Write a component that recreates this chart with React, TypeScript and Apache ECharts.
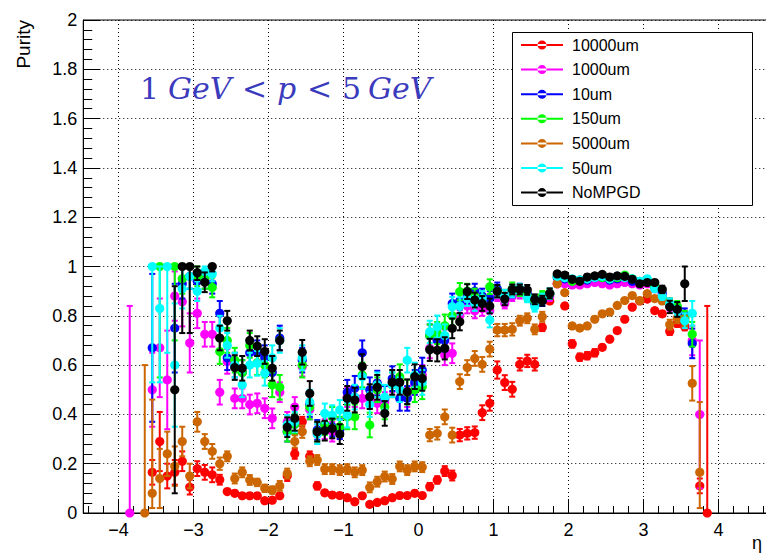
import React, { useEffect, useRef } from 'react';
import * as echarts from 'echarts';

// Bin centres in eta
const ETA = [
  -3.85, -3.75, -3.65, -3.55, -3.45, -3.35, -3.25, -3.15, -3.05, -2.95,
  -2.85, -2.75, -2.65, -2.55, -2.45, -2.35, -2.25, -2.15, -2.05, -1.95,
  -1.85, -1.75, -1.65, -1.55, -1.45, -1.35, -1.25, -1.15, -1.05, -0.95,
  -0.85, -0.75, -0.65, -0.55, -0.45, -0.35, -0.25, -0.15, -0.05, 0.05,
  0.15, 0.25, 0.35, 0.45, 0.55, 0.65, 0.75, 0.85, 0.95, 1.05,
  1.15, 1.25, 1.35, 1.45, 1.55, 1.65, 1.75, 1.85, 1.95, 2.05,
  2.15, 2.25, 2.35, 2.45, 2.55, 2.65, 2.75, 2.85, 2.95, 3.05,
  3.15, 3.25, 3.35, 3.45, 3.55, 3.65, 3.75, 3.85,
];

const RED_VAL = [
  null, null, null, 0.165, 0.29, 0.15, 0.165, 0.21, 0.105, 0.18,
  0.165, 0.155, 0.135, 0.087, 0.08, 0.07, 0.07, 0.07, 0.05, 0.052,
  0.07, 0.15, 0.24, 0.37, 0.23, 0.11, 0.082, 0.073, 0.071, 0.062,
  0.046, 0.07, 0.035, 0.043, 0.05, 0.062, 0.071, 0.071, 0.08, 0.071,
  0.107, 0.134, 0.17, 0.152, 0.316, 0.323, 0.326, 0.407, 0.445, 0.58,
  0.529, 0.502, 0.603, 0.617, 0.603, 0.753, 0.86, 0.93, 0.84, 0.686,
  0.632, 0.638, 0.65, 0.672, 0.705, 0.74, 0.786, 0.835, 0.86, 0.868,
  0.821, 0.808, 0.737, 0.77, 0.756, null, 0.11, 0,
];
const RED_ERR = [
  0, 0, 0, 0.05, 0.12, 0.05, 0.05, 0.04, 0.03, 0.03,
  0.03, 0.03, 0.02, 0.01, 0.01, 0.01, 0.01, 0.01, 0.01, 0.01,
  0.01, 0.02, 0.02, 0.02, 0.02, 0.015, 0.01, 0.01, 0.01, 0.01,
  0.01, 0.01, 0.01, 0.01, 0.01, 0.01, 0.01, 0.01, 0.01, 0.01,
  0.015, 0.015, 0.02, 0.02, 0.025, 0.025, 0.025, 0.03, 0.03, 0.035,
  0.03, 0.03, 0.025, 0.025, 0.025, 0.015, 0.01, 0.01, 0.01, 0.015,
  0.015, 0.015, 0.015, 0.01, 0.01, 0.01, 0.01, 0.01, 0.01, 0.01,
  0.01, 0.01, 0.015, 0.015, 0.015, 0, 0.03, 0.84,
];

const MAGENTA_VAL = [
  0, null, null, 0.5, 0.67, 0.54, 0.88, 0.857, 0.69, 0.81,
  0.725, 0.725, 0.49, 0.615, 0.465, 0.465, 0.44, 0.445, 0.425, 0.384,
  0.49, 0.37, 0.43, 0.594, 0.42, 0.32, 0.34, 0.33, 0.34, 0.47,
  0.47, 0.465, 0.465, 0.445, 0.45, 0.53, 0.5, 0.47, 0.52, 0.56,
  0.668, 0.7, 0.64, 0.648, 0.8, 0.84, 0.82, 0.83, 0.82, 0.88,
  0.85, 0.88, 0.89, 0.88, 0.86, 0.87, 0.88, 0.93, 0.93, 0.925,
  0.925, 0.93, 0.935, 0.93, 0.925, 0.93, 0.935, 0.93, 0.925, 0.93,
  0.91, 0.88, 0.84, 0.83, 0.79, 0.7, 0.4, null,
];
const MAGENTA_ERR = [
  [0, 0.84], 0, 0, 0.15, 0.2, 0.2, 0.1, 0.1, 0.12, 0.06,
  0.05, 0.05, 0.05, 0.05, 0.04, 0.04, 0.04, 0.04, 0.04, 0.04,
  0.04, 0.04, 0.04, 0.04, 0.04, 0.04, 0.04, 0.04, 0.04, 0.04,
  0.04, 0.04, 0.04, 0.04, 0.04, 0.04, 0.04, 0.04, 0.04, 0.04,
  0.04, 0.04, 0.04, 0.04, 0.03, 0.03, 0.03, 0.03, 0.03, 0.02,
  0.02, 0.02, 0.02, 0.02, 0.02, 0.02, 0.02, 0.01, 0.01, 0.01,
  0.01, 0.01, 0.01, 0.01, 0.01, 0.01, 0.01, 0.01, 0.01, 0.01,
  0.01, 0.015, 0.02, 0.02, 0.03, 0.06, 0.3, 0,
];

const BLUE_VAL = [
  null, null, null, 0.67, null, null, 0.75, 0.93, 0.96, 0.94,
  0.95, 0.93, 0.81, 0.63, 0.6, 0.57, 0.65, 0.65, 0.63, 0.57,
  0.71, 0.33, 0.36, 0.62, 0.44, 0.337, 0.36, 0.35, 0.34, 0.49,
  0.506, 0.65, 0.5, 0.527, 0.465, 0.545, 0.465, 0.465, 0.53, 0.58,
  0.72, 0.7, 0.7, 0.85, 0.86, 0.88, 0.9, 0.88, 0.87, 0.91,
  0.88, 0.9, 0.91, 0.89, 0.85, 0.86, 0.89, 0.955, 0.95, 0.945,
  0.945, 0.945, 0.955, 0.955, 0.945, 0.95, 0.96, 0.94, 0.935, 0.94,
  0.92, 0.89, 0.85, 0.83, 0.8, 0.688, null, null,
];
const BLUE_ERR = [
  0, 0, 0, 0.3, 0, 0, 0.18, 0.06, 0.05, 0.04,
  0.04, 0.04, 0.05, 0.05, 0.05, 0.05, 0.05, 0.05, 0.05, 0.05,
  0.05, 0.04, 0.04, 0.05, 0.05, 0.04, 0.04, 0.04, 0.04, 0.05,
  0.05, 0.05, 0.05, 0.05, 0.05, 0.05, 0.05, 0.05, 0.05, 0.05,
  0.045, 0.045, 0.045, 0.04, 0.035, 0.03, 0.03, 0.03, 0.03, 0.025,
  0.025, 0.025, 0.02, 0.02, 0.02, 0.02, 0.02, 0.01, 0.01, 0.01,
  0.01, 0.01, 0.01, 0.01, 0.01, 0.01, 0.01, 0.01, 0.01, 0.01,
  0.01, 0.015, 0.02, 0.02, 0.03, 0.06, 0, 0,
];

const GREEN_VAL = [
  null, null, null, null, 1, null, 1, 0.95, null, 0.96,
  0.95, 0.915, 0.655, 0.7, 0.62, 0.57, 0.68, 0.61, 0.6, 0.52,
  0.51, 0.33, 0.36, 0.6, 0.43, 0.33, 0.357, 0.39, 0.35, 0.39,
  0.39, 0.56, 0.357, 0.5, 0.43, 0.52, 0.553, 0.49, 0.5, 0.512,
  0.72, 0.73, 0.76, 0.8, 0.898, 0.9, 0.88, 0.87, 0.918, 0.9,
  0.88, 0.91, 0.9, 0.88, 0.86, 0.88, 0.89, 0.96, 0.955, 0.94,
  0.945, 0.95, 0.96, 0.955, 0.95, 0.955, 0.965, 0.95, 0.94, 0.945,
  0.92, 0.87, 0.85, 0.84, 0.79, 0.725, null, null,
];
const GREEN_ERR = [
  0, 0, 0, 0, 0.45, 0, 0.3, 0.06, 0, 0.04,
  0.04, 0.04, 0.05, 0.05, 0.05, 0.05, 0.05, 0.05, 0.05, 0.05,
  0.05, 0.04, 0.04, 0.05, 0.05, 0.04, 0.04, 0.04, 0.04, 0.05,
  0.05, 0.05, 0.05, 0.05, 0.05, 0.05, 0.05, 0.05, 0.05, 0.05,
  0.045, 0.045, 0.045, 0.04, 0.035, 0.03, 0.03, 0.03, 0.03, 0.025,
  0.025, 0.025, 0.02, 0.02, 0.02, 0.02, 0.02, 0.01, 0.01, 0.01,
  0.01, 0.01, 0.01, 0.01, 0.01, 0.01, 0.01, 0.01, 0.01, 0.01,
  0.01, 0.015, 0.02, 0.02, 0.03, 0.05, 0, 0,
];

const ORANGE_VAL = [
  null, null, 0, 0.08, 0.14, 0.24, 0.19, 0.29, 0.15, 0.37,
  0.29, 0.25, 0.2, 0.23, 0.14, 0.165, 0.134, 0.124, 0.1, 0.093,
  0.11, 0.16, 0.29, 0.33, 0.21, 0.215, 0.178, 0.178, 0.174, 0.178,
  0.165, 0.174, 0.104, 0.127, 0.148, 0.138, 0.189, 0.174, 0.189, 0.186,
  0.316, 0.323, 0.39, 0.316, 0.533, 0.59, 0.627, 0.603, 0.665, 0.742,
  0.742, 0.745, 0.78, 0.79, 0.745, 0.796, 0.891, 0.93, 0.894, 0.759,
  0.75, 0.759, 0.786, 0.808, 0.815, 0.842, 0.862, 0.882, 0.862, 0.89,
  0.87, 0.86, 0.764, 0.79, 0.78, 0.526, 0.165, null,
];
const ORANGE_ERR = [
  0, 0, [0, 0.6], [0.06, 0.38], 0.12, 0.09, 0.08, 0.06, 0.05, 0.04,
  0.03, 0.03, 0.025, 0.02, 0.02, 0.02, 0.02, 0.015, 0.015, 0.015,
  0.02, 0.02, 0.025, 0.025, 0.02, 0.02, 0.02, 0.02, 0.02, 0.02,
  0.02, 0.02, 0.02, 0.02, 0.02, 0.02, 0.02, 0.02, 0.02, 0.02,
  0.025, 0.025, 0.03, 0.03, 0.03, 0.03, 0.03, 0.03, 0.03, 0.025,
  0.025, 0.025, 0.02, 0.02, 0.02, 0.02, 0.01, 0.01, 0.01, 0.01,
  0.01, 0.01, 0.01, 0.01, 0.01, 0.01, 0.01, 0.01, 0.01, 0.01,
  0.01, 0.01, 0.02, 0.02, 0.02, 0.07, [0.145, 0.285], 0,
];

const CYAN_VAL = [
  null, null, null, 1, 0.83, 1, 0.6, 0.91, 0.96, 0.9,
  0.98, 0.97, 0.75, 0.68, 0.6, 0.52, 0.6, 0.607, 0.567, 0.63,
  0.7, 0.357, 0.37, 0.63, 0.45, 0.32, 0.404, 0.397, 0.418, 0.397,
  0.47, 0.553, 0.44, 0.52, 0.47, 0.52, 0.5, 0.62, 0.56, 0.53,
  0.735, 0.756, 0.72, 0.837, 0.84, 0.87, 0.85, 0.87, 0.783, 0.9,
  0.88, 0.9, 0.91, 0.875, 0.837, 0.87, 0.89, 0.96, 0.955, 0.95,
  0.945, 0.95, 0.955, 0.96, 0.95, 0.96, 0.955, 0.95, 0.94, 0.95,
  0.91, 0.88, 0.85, 0.82, 0.78, 0.81, null, null,
];
const CYAN_ERR = [
  0, 0, 0, 0.47, [0.3, 0.17], 0.35, 0.25, 0.08, 0.05, 0.04,
  0.03, 0.03, 0.05, 0.05, 0.05, 0.05, 0.05, 0.05, 0.05, 0.05,
  0.05, 0.04, 0.04, 0.05, 0.05, 0.04, 0.04, 0.04, 0.04, 0.05,
  0.05, 0.05, 0.05, 0.05, 0.05, 0.05, 0.05, 0.05, 0.05, 0.05,
  0.045, 0.045, 0.045, 0.04, 0.035, 0.03, 0.03, 0.03, 0.03, 0.025,
  0.025, 0.025, 0.02, 0.02, 0.02, 0.02, 0.02, 0.01, 0.01, 0.01,
  0.01, 0.01, 0.01, 0.01, 0.01, 0.01, 0.01, 0.01, 0.01, 0.01,
  0.01, 0.015, 0.02, 0.02, 0.03, 0.05, 0, 0,
];

const BLACK_VAL = [
  null, null, null, null, null, null, 0.5, 1, 1, 0.975,
  0.936, 1, 0.71, 0.78, 0.59, 0.587, 0.7, 0.677, 0.655, 0.587,
  0.7, 0.348, 0.384, 0.652, 0.485, 0.33, 0.334, 0.343, 0.32, 0.465,
  0.458, 0.594, 0.472, 0.51, 0.404, 0.53, 0.53, 0.492, 0.553, 0.546,
  0.662, 0.66, 0.668, 0.749, 0.776, 0.898, 0.864, 0.85, 0.84, 0.9,
  0.868, 0.907, 0.907, 0.905, 0.867, 0.861, 0.891, 0.97, 0.965, 0.948,
  0.94, 0.957, 0.962, 0.968, 0.957, 0.962, 0.96, 0.948, 0.93, 0.935,
  0.935, 0.907, 0.836, 0.826, 0.93, null, null, null,
];
const BLACK_ERR = [
  0, 0, 0, 0, 0, 0, 0.42, [0.27, 0], [0.27, 0], 0.03,
  0.04, 0.02, 0.05, 0.04, 0.05, 0.05, 0.04, 0.04, 0.05, 0.05,
  0.04, 0.04, 0.05, 0.05, 0.05, 0.04, 0.04, 0.04, 0.04, 0.05,
  0.05, 0.05, 0.05, 0.05, 0.05, 0.05, 0.05, 0.05, 0.05, 0.05,
  0.045, 0.045, 0.045, 0.04, 0.035, 0.03, 0.03, 0.03, 0.03, 0.025,
  0.025, 0.02, 0.02, 0.02, 0.02, 0.02, 0.02, 0.01, 0.01, 0.01,
  0.01, 0.01, 0.01, 0.01, 0.01, 0.01, 0.01, 0.01, 0.01, 0.01,
  0.01, 0.015, 0.025, 0.03, 0.07, 0, 0, 0,
];

const SERIES_NAMES = ['10000um', '1000um', '10um', '150um', '5000um', '50um', 'NoMPGD'];
const SERIES_COLORS = ['#ff0000', '#ff00ff', '#0000ff', '#00ff00', '#cc6600', '#00ffff', '#000000'];
const SERIES_VALUES = [RED_VAL, MAGENTA_VAL, BLUE_VAL, GREEN_VAL, ORANGE_VAL, CYAN_VAL, BLACK_VAL];
const SERIES_ERRORS = [RED_ERR, MAGENTA_ERR, BLUE_ERR, GREEN_ERR, ORANGE_ERR, CYAN_ERR, BLACK_ERR];

const LEGEND_ICON =
  'path://M0,3.5H42V5.5H0Z M16.5,4.5A4.5,4.5 0 1 0 25.5,4.5A4.5,4.5 0 1 0 16.5,4.5Z';

function buildData(values: (number | null)[], errors: any[]) {
  const out: number[][] = [];
  for (let i = 0; i < ETA.length; i++) {
    const v = values[i];
    if (v === null || v === undefined) continue;
    const e = errors[i];
    const lo = Array.isArray(e) ? e[0] : e;
    const hi = Array.isArray(e) ? e[1] : e;
    out.push([ETA[i], v, Math.max(0, v - lo), Math.min(1, v + hi)]);
  }
  return out;
}

export default function App() {
  const ref = useRef<HTMLDivElement>(null);
  useEffect(() => {
    if (!ref.current) return;
    const chart = echarts.init(ref.current, undefined, { renderer: 'svg' });
    const series = SERIES_NAMES.map((name, k) => {
      const color = SERIES_COLORS[k];
      return {
        type: 'custom',
        name,
        clip: false,
        itemStyle: { color },
        encode: { x: 0, y: 1 },
        data: buildData(SERIES_VALUES[k], SERIES_ERRORS[k]),
        renderItem: (params: any, api: any) => {
          const x = api.value(0);
          const y = api.value(1);
          const c = api.coord([x, y]);
          const cl = api.coord([x, api.value(2)]);
          const ch = api.coord([x, api.value(3)]);
          const children: any[] = [];
          if (cl[1] - ch[1] > 1) {
            children.push({
              type: 'line',
              shape: { x1: c[0], y1: ch[1], x2: c[0], y2: cl[1] },
              style: { stroke: color, lineWidth: 2 },
            });
            children.push({
              type: 'line',
              shape: { x1: c[0] - 3, y1: ch[1], x2: c[0] + 3, y2: ch[1] },
              style: { stroke: color, lineWidth: 2 },
            });
            children.push({
              type: 'line',
              shape: { x1: c[0] - 3, y1: cl[1], x2: c[0] + 3, y2: cl[1] },
              style: { stroke: color, lineWidth: 2 },
            });
          }
          children.push({
            type: 'circle',
            shape: { cx: c[0], cy: c[1], r: 4.6 },
            style: { fill: color },
          });
          return { type: 'group', children };
        },
      };
    });

    const mathFont = '"DejaVu Serif"';
    const mathColor = '#3b3bbd';
    const mathTokens = [
      { t: '1', x: 140, italic: false },
      { t: 'GeV', x: 168, italic: true },
      { t: '<', x: 242, italic: false },
      { t: 'p', x: 277, italic: true },
      { t: '<', x: 307, italic: false },
      { t: '5', x: 342, italic: false },
      { t: 'GeV', x: 368, italic: true },
    ];

    chart.setOption({
      animation: false,
      backgroundColor: '#ffffff',
      grid: {
        left: 83.25,
        top: 20,
        right: -27.5,
        bottom: 40,
        outerBoundsMode: 'none',
        containLabel: false,
        show: true,
        borderColor: '#000',
        borderWidth: 1,
        backgroundColor: 'transparent',
      },
      xAxis: {
        type: 'value',
        min: -4.47,
        max: 5,
        splitNumber: 10,
        axisLine: { show: true, onZero: false, lineStyle: { color: '#000', width: 1 } },
        axisTick: { show: true, inside: true, length: 14, lineStyle: { color: '#000', width: 1 } },
        minorTick: { show: true, splitNumber: 5, length: 7, lineStyle: { color: '#000', width: 1 } },
        axisLabel: {
          color: '#000',
          fontSize: 18,
          fontFamily: '"Liberation Sans", Arial, sans-serif',
          margin: 8,
          showMinLabel: false,
          showMaxLabel: false,
          formatter: (v: number) =>
            Math.abs(v - Math.round(v)) < 1e-6 ? String(Math.round(v)).replace('-', '\u2212') : '',
        },
        splitLine: { show: true, lineStyle: { color: '#000', type: [1, 3], width: 1 } },
      },
      yAxis: {
        type: 'value',
        min: 0,
        max: 2,
        interval: 0.2,
        axisLine: { show: true, onZero: false, lineStyle: { color: '#000', width: 1 } },
        axisTick: { show: true, inside: true, length: 17, lineStyle: { color: '#000', width: 1 } },
        minorTick: { show: true, splitNumber: 5, length: 9, lineStyle: { color: '#000', width: 1 } },
        axisLabel: {
          color: '#000',
          fontSize: 18,
          fontFamily: '"Liberation Sans", Arial, sans-serif',
          margin: 6,
        },
        splitLine: { show: true, lineStyle: { color: '#000', type: [1, 3], width: 1 } },
      },
      legend: {
        left: 521,
        top: 37,
        orient: 'vertical',
        itemWidth: 42,
        itemHeight: 9,
        itemGap: 8.6,
        padding: 0,
        selectedMode: false,
        textStyle: {
          fontSize: 16,
          lineHeight: 16,
          color: '#000',
          fontFamily: '"Liberation Sans", Arial, sans-serif',
          padding: [0, 0, 0, 4],
        },
        data: SERIES_NAMES.map((n) => ({ name: n, icon: LEGEND_ICON })),
      },
      graphic: [
        {
          type: 'rect',
          z: 3,
          shape: { x: 512.5, y: 32.5, width: 240, height: 173 },
          style: { fill: '#fff', stroke: '#000', lineWidth: 1 },
        },
        {
          type: 'text',
          x: 23,
          y: 20,
          rotation: Math.PI / 2,
          style: {
            text: 'Purity',
            fontSize: 19,
            fontFamily: '"Liberation Sans", Arial, sans-serif',
            fill: '#000',
            align: 'right',
            verticalAlign: 'middle',
          },
        },
        {
          type: 'text',
          x: 752,
          y: 534,
          style: {
            text: '\u03b7',
            fontSize: 18,
            fontFamily: '"Liberation Sans", Arial, sans-serif',
            fill: '#000',
            align: 'left',
            verticalAlign: 'top',
          },
        },
        ...mathTokens.map((tk) => ({
          type: 'text',
          x: tk.x,
          y: 88,
          z: 5,
          style: {
            text: tk.t,
            fontSize: 30,
            fontStyle: tk.italic ? 'italic' : 'normal',
            fontFamily: mathFont,
            fill: mathColor,
            align: 'left',
            verticalAlign: 'middle',
          },
        })),
      ],
      series,
    });
    return () => chart.dispose();
  }, []);
  return (
    <div
      ref={ref}
      style={{ position: 'fixed', left: 0, top: 0, width: 766, height: 553, background: '#fff' }}
    />
  );
}
